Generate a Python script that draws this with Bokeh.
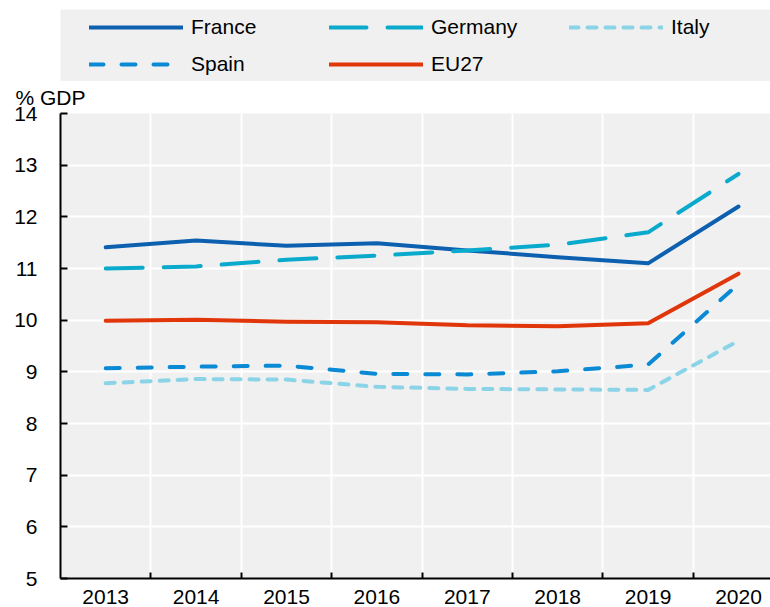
from bokeh.plotting import figure
from bokeh.models import Range1d, FixedTicker, Legend, LegendItem, ColumnDataSource
from bokeh.layouts import column
from bokeh.embed import file_html
from bokeh.resources import INLINE

# ---- data ----
years = [2013, 2014, 2015, 2016, 2017, 2018, 2019, 2020]
year_labels = ["2013", "2014", "2015", "2016", "2017", "2018", "2019", "2020"]
france = [11.41, 11.54, 11.44, 11.49, 11.35, 11.22, 11.10, 12.20]
germany = [11.00, 11.04, 11.17, 11.25, 11.35, 11.46, 11.70, 12.83]
italy = [8.78, 8.86, 8.85, 8.71, 8.67, 8.66, 8.65, 9.60]
spain = [9.07, 9.10, 9.12, 8.96, 8.95, 9.01, 9.14, 10.70]
eu27 = [9.99, 10.01, 9.97, 9.96, 9.90, 9.88, 9.94, 10.90]
y_ticks = [5, 6, 7, 8, 9, 10, 11, 12, 13, 14]
series_names = ["France", "Germany", "Italy", "Spain", "EU27"]
unit_label = "% GDP"

styles = {
    "France": dict(color="#0d60b0", dash="solid"),
    "Germany": dict(color="#0aaacd", dash="37 21"),
    "Italy": dict(color="#8bd4e7", dash="9 9"),
    "Spain": dict(color="#0a89d4", dash="14 18"),
    "EU27": dict(color="#e0360a", dash="solid"),
}
values = {"France": france, "Germany": germany, "Italy": italy, "Spain": spain, "EU27": eu27}

FONT = "Liberation Sans"
FS = "21px"
W = 770

src = ColumnDataSource(dict(year=years, **values))

# ---- legend strip ----
leg_fig = figure(width=W, height=81, output_backend="svg", toolbar_location=None,
                 x_range=Range1d(0, 1), y_range=Range1d(0, 1),
                 x_axis_location=None, y_axis_location=None,
                 min_border_left=59, min_border_right=0, min_border_top=9, min_border_bottom=0,
                 background_fill_color="#f0f0f0", border_fill_color="white",
                 outline_line_color=None)
leg_fig.grid.visible = False
items = []
for name in series_names:
    st = styles[name]
    # same data, outside this strip's range: only the legend glyph shows
    r = leg_fig.line(x="year", y=name, source=src, line_color=st["color"], line_width=4,
                     line_dash=st["dash"], line_cap="round")
    items.append(LegendItem(label=name, renderers=[r]))
legend = Legend(items=items, location=(29, 0), orientation="horizontal", ncols=3,
                padding=0, spacing=3, margin=0,
                glyph_width=94, glyph_height=34, label_height=34, label_width=135,
                label_standoff=8, label_text_font=FONT, label_text_font_size=FS,
                label_text_color="black", background_fill_alpha=0, border_line_color=None)
leg_fig.add_layout(legend)

# ---- main chart ----
p = figure(width=W, height=526, output_backend="svg", toolbar_location=None,
           x_range=Range1d(years[0] - 0.5, 2020.354), y_range=Range1d(y_ticks[0], y_ticks[-1]),
           min_border_left=60, min_border_right=0, min_border_top=32, min_border_bottom=29,
           background_fill_color="#f0f0f0", border_fill_color="white",
           outline_line_color=None, title=unit_label)
p.title.align = "left"
p.title.vertical_align = "top"
p.title.offset = -45
p.title.text_font = FONT
p.title.text_font_size = FS
p.title.text_font_style = "normal"
p.title.text_color = "black"
p.title.standoff = 6

xt = FixedTicker(ticks=years, minor_ticks=[y + 0.5 for y in years[:-1]])
yt = FixedTicker(ticks=y_ticks, minor_ticks=[])

xa = p.xaxis[0]
xa.ticker = xt
xa.major_label_overrides = {y: lab for y, lab in zip(years, year_labels)}
xa.major_tick_in = 0
xa.major_tick_out = 0
xa.minor_tick_in = 6
xa.minor_tick_out = 0
xa.minor_tick_line_color = "black"
xa.minor_tick_line_width = 2
xa.major_label_standoff = 11

ya = p.yaxis[0]
ya.ticker = yt
ya.major_tick_in = 7
ya.major_tick_out = 0
ya.major_tick_line_color = "black"
ya.major_tick_line_width = 2
ya.minor_tick_line_color = None
ya.major_label_standoff = 23

for ax in (xa, ya):
    ax.axis_line_color = "black"
    ax.axis_line_width = 2
    ax.major_label_text_font = FONT
    ax.major_label_text_font_size = FS
    ax.major_label_text_color = "black"

p.xgrid.ticker = xt
p.xgrid.grid_line_color = None
p.xgrid.minor_grid_line_color = "white"
p.xgrid.minor_grid_line_width = 2
p.ygrid.ticker = yt
p.ygrid.grid_line_color = "white"
p.ygrid.grid_line_width = 2

for name in series_names:
    st = styles[name]
    p.line(x="year", y=name, source=src, line_color=st["color"], line_width=4,
           line_dash=st["dash"], line_cap="round", line_join="round")

layout = column(leg_fig, p)
open("out.html", "w").write(file_html(layout, INLINE))
